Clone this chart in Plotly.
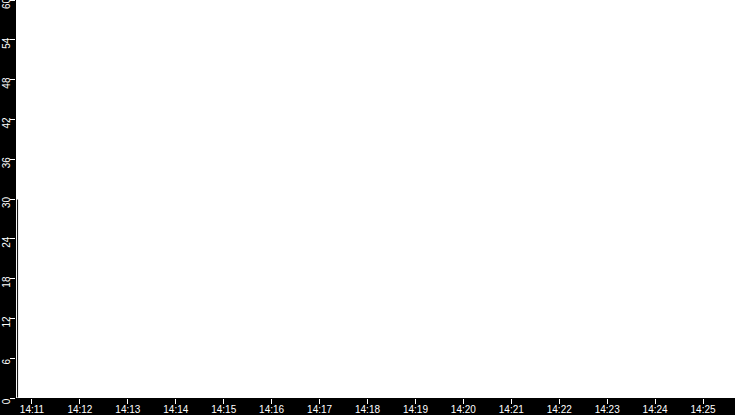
import plotly.graph_objects as go

# one sample at the start of the window
times = ["2024-01-01 14:10:42"]
values = [30]

x_range = ["2024-01-01 14:10:40", "2024-01-01 14:25:40"]
y_range = [0, 60]

fig = go.Figure(
    go.Bar(
        x=times,
        y=values,
        width=2500,
        marker=dict(color="black", line=dict(color="white", width=1)),
    )
)

fig.update_layout(
    width=735,
    height=415,
    margin=dict(l=16, r=0, t=0, b=17),
    paper_bgcolor="black",
    plot_bgcolor="white",
    showlegend=False,
    font=dict(family="Liberation Sans, Arial, sans-serif", size=10, color="white"),
)
fig.update_xaxes(
    type="date",
    range=x_range,
    dtick=60000,
    tickformat="%H:%M",
    ticks="outside",
    ticklen=5,
    tickcolor="white",
    showgrid=False,
    zeroline=False,
    showline=False,
    automargin=False,
    ticklabeloverflow="allow",
    ticklabelstandoff=-3,
)
fig.update_yaxes(
    range=y_range,
    dtick=6,
    tickangle=-90,
    ticks="outside",
    ticklen=5,
    tickcolor="white",
    showgrid=False,
    zeroline=False,
    showline=False,
    automargin=False,
    ticklabeloverflow="allow",
    ticklabelstandoff=-4,
    ticklabelshift=5,
)

# drop the default page margin so the chart fills the window
fig.write_html(
    "out.html",
    config={"displayModeBar": False},
    post_script="document.body.style.margin='0';",
)
